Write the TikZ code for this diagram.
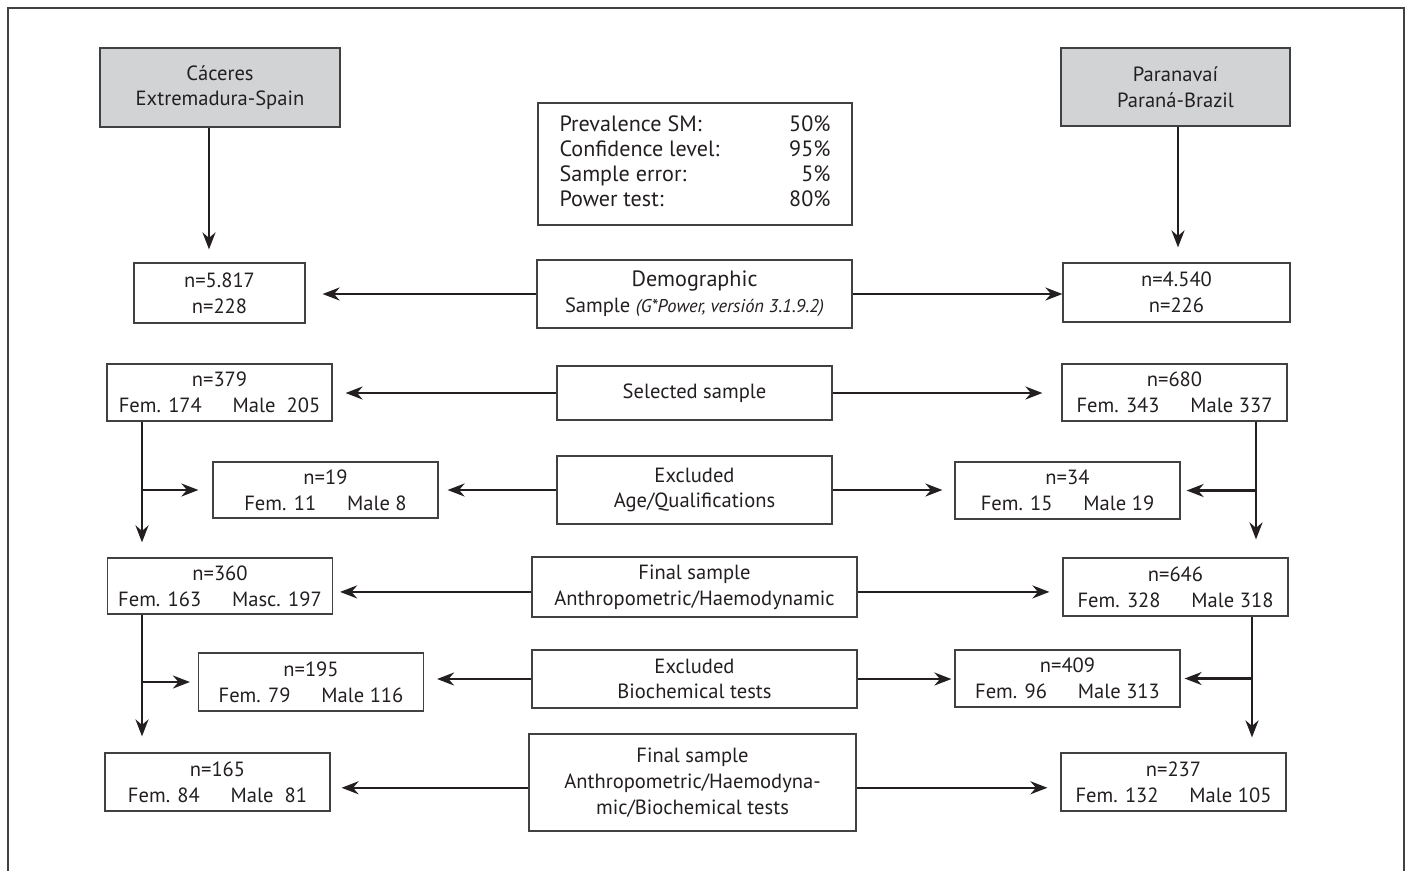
\documentclass[tikz,border=0pt]{standalone}
\usepackage{fontspec}
\setmainfont{PT Sans}
\usepackage{xcolor}
\usetikzlibrary{arrows.meta,positioning,calc}
\definecolor{fcdark}{RGB}{35,31,32}
\definecolor{fcline}{RGB}{65,64,66}
\definecolor{fcgrey}{RGB}{209,211,212}

\begin{document}
\begin{tikzpicture}[
  x=0.02cm,y=-0.02cm,
  cell/.style={draw=fcline,line width=0.7pt,minimum width=4.5cm,minimum height=1.15cm,
     inner sep=0pt,align=center,text=fcdark,font=\fontsize{11.7}{14.6}\selectfont},
  site/.style={cell,fill=fcgrey},
  stage/.style={cell,minimum width=6.5cm},
  flow/.style={-{Stealth[length=0.34cm,width=0.26cm]},line width=1.35pt,color=fcdark}
]
\useasboundingbox (0,0) rectangle (1410,870);
\draw[line width=1.3pt,color=fcline] (8,872) |- (1404,8) -- (1404,872);

% sites
\node[site,minimum width=4.8cm,minimum height=1.58cm] (caceres) at (220,87.5) {Cáceres\\Extremadura-Spain};
\node[site,minimum width=4.58cm,minimum height=1.56cm] (parana) at (1175.5,87) {Paranavaí\\Paraná-Brazil};

% middle column
\node[cell,minimum width=6.28cm,minimum height=2.44cm,font=\fontsize{12.6}{14.2}\selectfont] (params) at (695,164)
  {\begin{tabular*}{5.42cm}{@{}l@{\extracolsep{\fill}}r@{}}
   Prevalence SM: & 50\%\\
   Confidence level: & 95\%\\
   Sample error: & 5\%\\
   Power test: & 80\%
   \end{tabular*}};
\node[stage,minimum width=6.3cm,minimum height=1.36cm] (demo) at (694.5,294)
  {{\fontsize{12.6}{14.6}\selectfont Demographic}\\Sample {\itshape\fontsize{10.5}{10}\selectfont (G*Power, versión 3.1.9.2)}};
\node[stage,minimum width=5.5cm,minimum height=1.08cm] (selected) at (694.5,393) {Selected sample};
\node[stage,minimum width=5.5cm,minimum height=1.36cm] (excl1) at (694.5,490) {Excluded\\Age/Qualifications};
\node[stage,minimum height=1.2cm] (final1) at (694.5,587) {Final sample\\Anthropometric/Haemodynamic};
\node[stage,minimum height=1.16cm] (excl2) at (694.5,679) {Excluded\\Biochemical tests};
\node[stage,minimum width=6.54cm,minimum height=1.94cm] (final2) at (692.5,782.5)
  {Final sample\\Anthropometric/Haemodyna-\\mic/Biochemical tests};

% Caceres side
\node[cell,minimum width=3.42cm,minimum height=1.2cm] (n5817) at (219.5,293) {n=5.817\\n=228};
\node[cell,minimum height=1.14cm] (n379) at (219.5,392.5) {n=379\\Fem. 174\hspace{1.5em}Male\ \ 205};
\node[cell,minimum height=1.12cm] (n19) at (325.5,490) {n=19\\Fem. 11\hspace{1.5em}Male 8};
\node[cell,minimum height=1.12cm] (n360) at (220,586) {n=360\\Fem. 163\hspace{1.5em}Masc. 197};
\node[cell,minimum height=1.16cm] (n195) at (311,682) {n=195\\Fem. 79\hspace{1.5em}Male 116};
\node[cell,minimum height=1.16cm] (n165) at (217.5,782) {n=165\\Fem. 84\hspace{1.5em}Male\ \ 81};

% Paranavai side
\node[cell,minimum width=4.54cm,minimum height=1.18cm] (n4540) at (1176.5,292.5) {n=4.540\\n=226};
\node[cell,minimum height=1.14cm] (n680) at (1174.5,392.5) {n=680\\Fem. 343\hspace{1.5em}Male 337};
\node[cell,minimum height=1.14cm] (n34) at (1067.5,490.5) {n=34\\Fem. 15\hspace{1.5em}Male 19};
\node[cell,minimum height=1.16cm] (n646) at (1175.5,587) {n=646\\Fem. 328\hspace{1.5em}Male 318};
\node[cell,minimum height=1.14cm] (n409) at (1067.5,678.5) {n=409\\Fem. 96\hspace{1.5em}Male 313};
\node[cell,minimum height=1.16cm] (n237) at (1173.5,782) {n=237\\Fem. 132\hspace{1.5em}Male 105};

\coordinate (cx) at (209,0);
\coordinate (px) at (1178,0);
\coordinate (lspine) at (142,0);
\coordinate (rspine) at (1256,0);
\coordinate (rspineb) at (1252,0);

\draw[flow,shorten >=0.26cm] (caceres.south -| cx) -- (n5817.north -| cx);
\draw[flow,shorten >=0.3cm] (parana.south -| px) -- (n4540.north -| px);

\draw[flow,shorten >=0.34cm] (demo.west) -- (demo.west -| n5817.east);
\draw[flow] (demo.east) -- (demo.east -| n4540.west);
\draw[flow,shorten >=0.26cm] (selected.west) -- (selected.west -| n379.east);
\draw[flow,shorten >=0.38cm] (selected.east) -- (selected.east -| n680.west);
\draw[flow,shorten >=0.18cm] (excl1.west) -- (excl1.west -| n19.east);
\draw[flow,shorten >=0.24cm] (excl1.east) -- (excl1.east -| n34.west);
\draw[flow,shorten >=0.14cm] ([yshift=-2.8pt]final1.west) -- ([yshift=-2.8pt]final1.west -| n360.east);
\draw[flow,shorten >=0.26cm] ([yshift=-2.8pt]final1.east) -- ([yshift=-2.8pt]final1.east -| n646.west);
\draw[flow,shorten >=0.26cm] (excl2.west) -- (excl2.west -| n195.east);
\draw[flow,shorten >=0.06cm] (excl2.east) -- (excl2.east -| n409.west);
\draw[flow,shorten >=0.22cm] ([yshift=-3pt]final2.west) -- ([yshift=-3pt]final2.west -| n165.east);
\draw[flow,shorten >=0.26cm] ([yshift=-3pt]final2.east) -- ([yshift=-3pt]final2.east -| n237.west);

\draw[flow,shorten >=0.3cm] (n379.south -| lspine) -- (n360.north -| lspine);
\draw[flow,shorten >=0.28cm] (lspine |- n19.west) -- (n19.west);
\draw[flow,shorten >=0.32cm] (n360.south -| lspine) -- (n165.north -| lspine);
\draw[flow,shorten >=0.16cm] (lspine |- n195.west) -- (n195.west);
\draw[flow,shorten >=0.36cm] (n680.south -| rspine) -- (n646.north -| rspine);
\draw[flow,shorten >=0.12cm] (rspine |- n34.east) -- (n34.east);
\draw[flow,shorten >=0.3cm] (n646.south -| rspineb) -- (n237.north -| rspineb);
\draw[flow,shorten >=0.08cm] (rspineb |- n409.east) -- (n409.east);
\end{tikzpicture}
\end{document}
